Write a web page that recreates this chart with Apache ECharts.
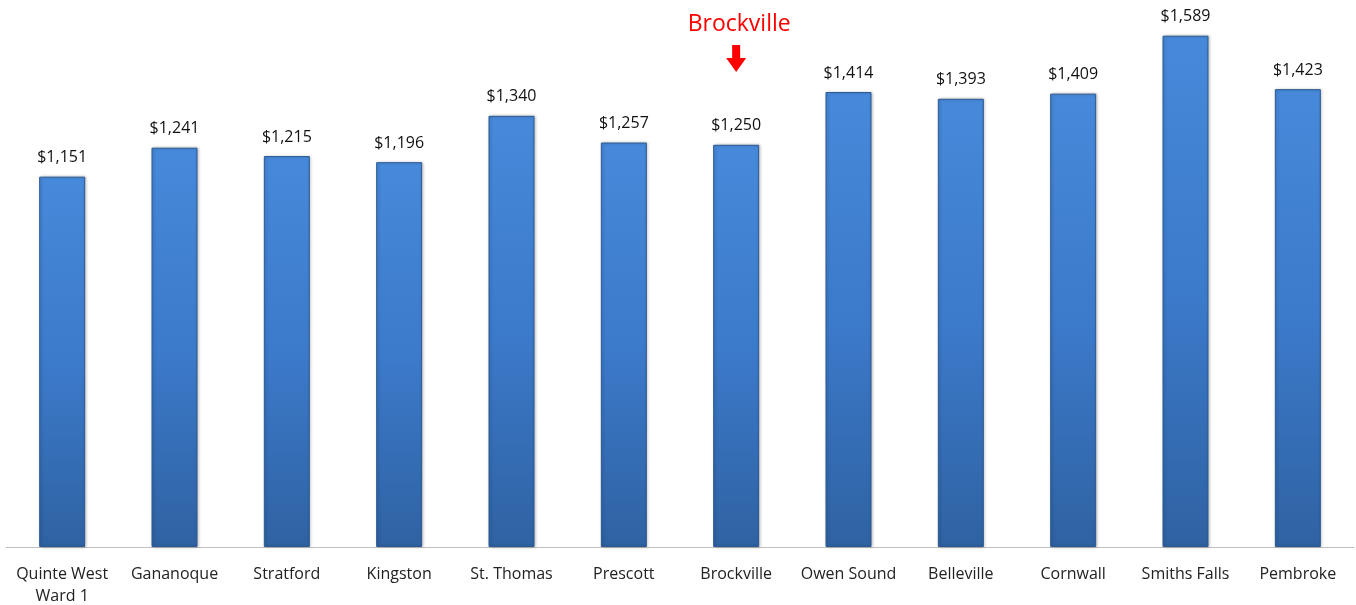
<!DOCTYPE html>
<html><head><meta charset="utf-8">
<script src="https://cdn.jsdelivr.net/npm/echarts@6/dist/echarts.min.js"></script>
<style>html,body{margin:0;padding:0;background:#fff;overflow:hidden}#c{width:1356px;height:605px}</style>
</head><body><div id="c"></div>
<script>
const categories = ['Quinte West\nWard 1','Gananoque','Stratford','Kingston','St. Thomas','Prescott','Brockville','Owen Sound','Belleville','Cornwall','Smiths Falls','Pembroke'];
const values = [1151,1241,1215,1196,1340,1257,1250,1414,1393,1409,1589,1423];
const highlight = 'Brockville';

const chart = echarts.init(document.getElementById('c'));
const font = '"Open Sans", "Noto Sans", sans-serif';
chart.setOption({
  animation: false,
  grid: {left: 6, right: 2, top: 0, bottom: 58, containLabel: false, outerBoundsMode: 'none'},
  xAxis: {
    type: 'category', data: categories,
    axisLine: {lineStyle: {color: '#bfbfbf', width: 1}},
    axisTick: {show: false},
    axisLabel: {color: '#222', fontFamily: font, fontSize: 16, margin: 16, lineHeight: 22, interval: 0}
  },
  yAxis: {type: 'value', min: 0, max: 1700, show: false, splitLine: {show: false}},
  series: [{
    type: 'bar', data: values, barWidth: 46,
    itemStyle: {
      color: {type: 'linear', x: 0, y: 0, x2: 0, y2: 1, colorStops: [
        {offset: 0, color: '#4789da'}, {offset: 0.5, color: '#3c7acb'}, {offset: 1, color: '#2f62a2'}]},
      borderColor: '#2c5a92', borderWidth: 1,
      shadowColor: 'rgba(0,0,0,0.25)', shadowBlur: 3, shadowOffsetX: 1, shadowOffsetY: 0
    },
    label: {
      show: true, position: 'top', distance: 11, color: '#111', fontFamily: font, fontSize: 16,
      formatter: p => '$' + p.value.toLocaleString('en-US')
    }
  }]
});

const idx = categories.indexOf(highlight);
const [hx] = chart.convertToPixel({seriesIndex: 0}, [idx, values[idx]]);
chart.setOption({
  graphic: [
    {type: 'text', x: hx + 3, y: 24, style: {text: highlight, fill: '#ff0000', font: '23px ' + font, textAlign: 'center', textVerticalAlign: 'middle'}},
    {type: 'polygon', shape: {points: [[hx-4,45],[hx+4,45],[hx+4,58],[hx+10,58],[hx,72],[hx-10,58],[hx-4,58]]}, style: {fill: '#ff0000'}}
  ]
});
</script></body></html>
